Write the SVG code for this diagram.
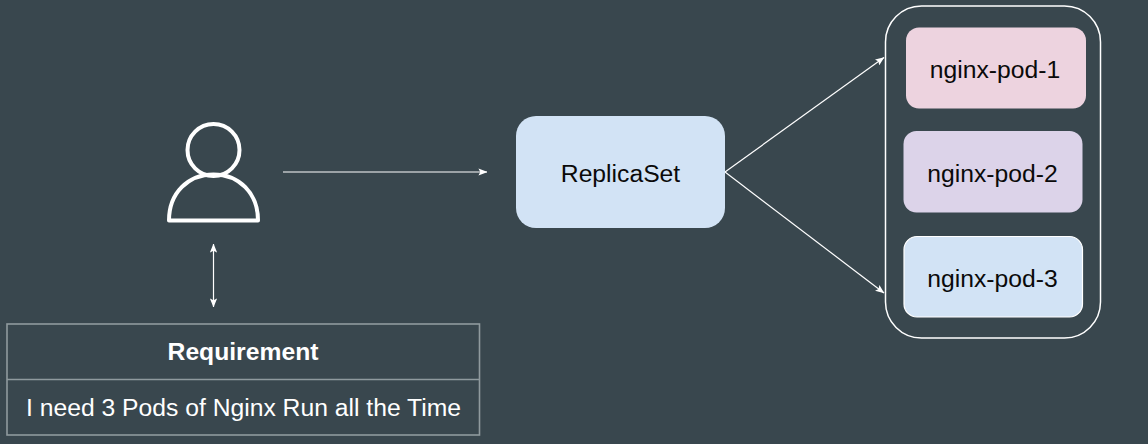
<svg xmlns="http://www.w3.org/2000/svg" width="1148" height="444" viewBox="0 0 1148 444">
<defs>
<marker id="head" viewBox="0 0 10 8" markerWidth="9" markerHeight="7.2" refX="9.500" refY="4" orient="auto-start-reverse" markerUnits="userSpaceOnUse"><path d="M0 0L10 4L0 8L2 4Z" fill="#fff"/></marker>
</defs>
<style>
text{font-family:"Liberation Sans",Arial,sans-serif;text-anchor:middle}
.lbl{font-size:24.700px;fill:#0a0a0a}
.conn{stroke:#fff;stroke-width:1.2;fill:none;marker-end:url(#head)}
.tbl{fill:none;stroke:#8f9a9e;stroke-width:1.6}
</style>
<rect width="1148" height="444" fill="#39474e"/>
<g id="connectors">
<path class="conn" d="M283 172H487"/>
<path class="conn" d="M213.500 244V307" style="marker-start:url(#head)"/>
<path class="conn" d="M725 172L884 57.500"/>
<path class="conn" d="M725 172L884 293"/>
</g>
<g id="user" fill="none" stroke="#fff" stroke-width="4">
<circle cx="213.500" cy="150" r="26"/>
<path d="M169 220.500C169 193 188 174.500 213.500 174.500C239 174.500 258 193 258 220.500Z" stroke-linejoin="round"/>
</g>
<g id="requirement">
<rect class="tbl" x="7" y="324" width="472.500" height="111"/>
<path class="tbl" d="M7 379.500H479.500"/>
<text x="243" y="360" font-size="24.700" font-weight="700" fill="#fff">Requirement</text>
<text x="243.500" y="415.500" font-size="24.700" fill="#fff">I need 3 Pods of Nginx Run all the Time</text>
</g>
<g id="replicaset">
<rect x="516" y="116" width="209" height="112" rx="20" fill="#d2e3f5"/>
<text class="lbl" x="620.500" y="181.500">ReplicaSet</text>
</g>
<g id="pod-group">
<rect x="885.500" y="6" width="215" height="332" rx="36" fill="none" stroke="#fff" stroke-width="1.500"/>
</g>
<g id="nginx-pod-1">
<rect x="906" y="27.500" width="180" height="81" rx="13" fill="#edd3df"/>
<text class="lbl" x="995" y="78">nginx-pod-1</text>
</g>
<g id="nginx-pod-2">
<rect x="903.500" y="131" width="179" height="81.500" rx="13" fill="#dcd3e9"/>
<text class="lbl" x="992.500" y="181.500">nginx-pod-2</text>
</g>
<g id="nginx-pod-3">
<rect x="904" y="236.500" width="178.500" height="80.500" rx="13" fill="#d2e3f5" stroke="#fff" stroke-width="1.200"/>
<text class="lbl" x="992.500" y="286.500">nginx-pod-3</text>
</g>
</svg>
